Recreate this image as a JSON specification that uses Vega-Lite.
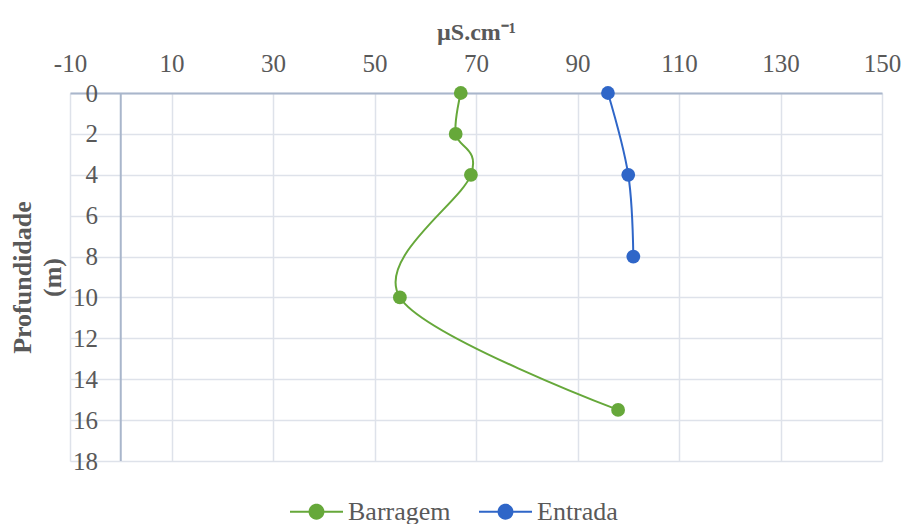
{
  "$schema": "https://vega.github.io/schema/vega-lite/v6.json",
  "width": 812,
  "height": 368,
  "autosize": {"type": "none"},
  "padding": {"left": 70, "top": 93, "right": 22, "bottom": 63},
  "background": "white",
  "config": {
    "view": {"stroke": null},
    "font": "Liberation Serif",
    "axis": {"gridColor": "#DEE2EA", "gridWidth": 1.5, "labelColor": "#595959", "titleColor": "#595959", "labelFont": "Liberation Serif", "titleFont": "Liberation Serif"},
    "legend": {"labelFont": "Liberation Serif"}
  },
  "data": {
    "values": [
      {"serie": "Barragem", "i": 1, "cond": 67, "prof": 0},
      {"serie": "Barragem", "i": 2, "cond": 66, "prof": 2},
      {"serie": "Barragem", "i": 3, "cond": 69, "prof": 4},
      {"serie": "Barragem", "i": 4, "cond": 55, "prof": 10},
      {"serie": "Barragem", "i": 5, "cond": 98, "prof": 15.5},
      {"serie": "Entrada", "i": 1, "cond": 96, "prof": 0},
      {"serie": "Entrada", "i": 2, "cond": 100, "prof": 4},
      {"serie": "Entrada", "i": 3, "cond": 101, "prof": 8}
    ]
  },
  "layer": [
    {
      "data": {"values": [{"zero": 0}]},
      "mark": {"type": "rule", "color": "#A9B6CB", "strokeWidth": 2},
      "encoding": {
        "x": {"field": "zero", "type": "quantitative"}
      }
    },
    {
      "mark": {"type": "line", "interpolate": "cardinal", "tension": 0, "strokeWidth": 2},
      "encoding": {
        "x": {"field": "cond", "type": "quantitative"},
        "y": {"field": "prof", "type": "quantitative"},
        "order": {"field": "i"},
        "color": {"field": "serie", "type": "nominal"}
      }
    },
    {
      "mark": {"type": "point", "filled": true, "opacity": 1, "size": 190, "shape": "circle"},
      "encoding": {
        "x": {
          "field": "cond", "type": "quantitative",
          "scale": {"domain": [-10, 150], "nice": false, "zero": false},
          "axis": {
            "orient": "top",
            "values": [-10, 10, 30, 50, 70, 90, 110, 130, 150],
            "labelExpr": "replace(datum.label, '−', '-')",
            "title": "µS.cm⁻¹",
            "titleFontSize": 24,
            "titleFontWeight": "bold",
            "titleX": 406,
            "titleY": -54,
            "titleAlign": "center",
            "titleBaseline": "alphabetic",
            "labelFontSize": 25,
            "labelBaseline": "alphabetic",
            "labelPadding": 22,
            "labelFlush": false,
            "ticks": false,
            "domainColor": "#A9B6CB",
            "domainWidth": 2
          }
        },
        "y": {
          "field": "prof", "type": "quantitative",
          "scale": {"domain": [0, 18], "reverse": true, "nice": false},
          "axis": {
            "orient": "left",
            "values": [0, 2, 4, 6, 8, 10, 12, 14, 16, 18],
            "title": ["Profundidade", "(m)"],
            "titleFontSize": 26,
            "titleFontWeight": "bold",
            "titleAngle": -90,
            "titleX": -48,
            "titleY": 184,
            "titleAlign": "center",
            "titleBaseline": "middle",
            "titleLineHeight": 30,
            "labelFontSize": 25,
            "labelAlign": "right",
            "labelBaseline": "middle",
            "labelPadding": -27.5,
            "labelFlush": false,
            "ticks": false,
            "domain": false
          }
        },
        "color": {
          "field": "serie", "type": "nominal",
          "scale": {"domain": ["Barragem", "Entrada"], "range": ["#66A83A", "#2F66C8"]},
          "legend": {
            "title": null,
            "orient": "none",
            "direction": "horizontal",
            "legendX": 220,
            "legendY": 392,
            "symbolType": "M-1,-0.04L1,-0.04L1,0.04L-1,0.04Z M0.3,0A0.3,0.3 0 1,1 -0.3,0A0.3,0.3 0 1,1 0.3,0Z",
            "symbolSize": 2809,
            "symbolStrokeWidth": 0,
            "labelFontSize": 26,
            "labelColor": "#595959",
            "labelOffset": 5,
            "columnPadding": 28,
            "encode": {"symbols": {"update": {"fill": {"scale": "color", "field": "value"}, "opacity": {"value": 1}}}}
          }
        }
      }
    }
  ]
}
